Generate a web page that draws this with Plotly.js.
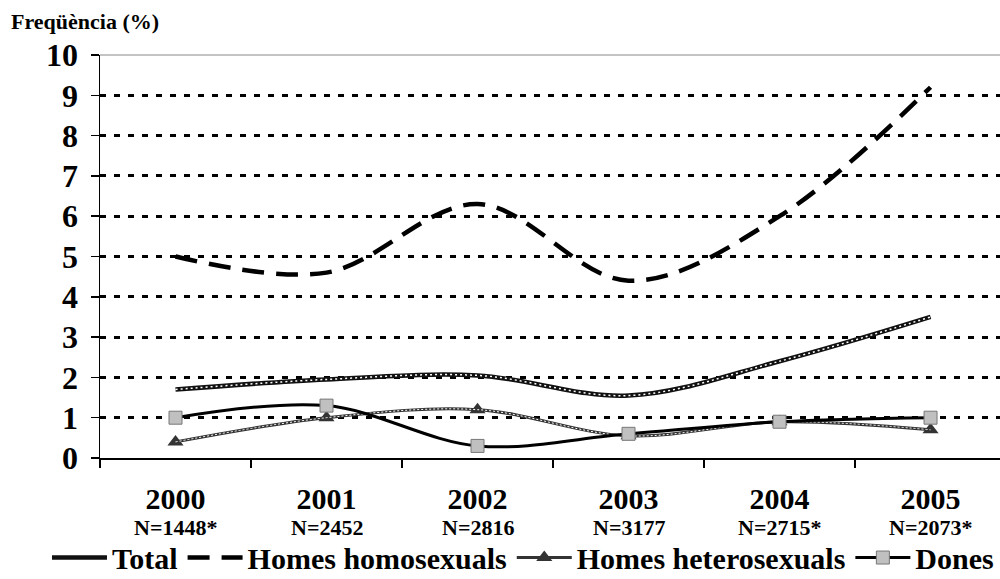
<!DOCTYPE html>
<html>
<head>
<meta charset="utf-8">
<script src="https://cdn.plot.ly/plotly-3.0.1.min.js"></script>
<style>html,body{margin:0;padding:0;background:#fff;}#chart{width:1000px;height:579px;}</style>
</head>
<body>
<div id="chart"></div>
<script>
const years = ['2000', '2001', '2002', '2003', '2004', '2005'];
const nLabels = ['N=1448*', 'N=2452', 'N=2816', 'N=3177', 'N=2715*', 'N=2073*'];
const total = [1.7, 1.95, 2.05, 1.55, 2.4, 3.5];
const homosexuals = [5.0, 4.6, 6.3, 4.4, 6.0, 9.2];
const heterosexuals = [0.4, 1.0, 1.2, 0.55, 0.9, 0.7];
const dones = [1.0, 1.3, 0.3, 0.6, 0.9, 1.0];
const seriesNames = ['Total', 'Homes homosexuals', 'Homes heterosexuals', 'Dones'];

const FONT = 'Liberation Serif';

const traces = [
  {x: years, y: total, name: seriesNames[0], mode: 'lines',
   line: {color: '#111', width: 4.5, shape: 'spline', smoothing: 1}},
  {x: years, y: total, showlegend: false, hoverinfo: 'skip', mode: 'lines',
   line: {color: '#fff', width: 1.5, dash: '2px,3px', shape: 'spline', smoothing: 1}},
  {x: years, y: homosexuals, name: seriesNames[1], mode: 'lines',
   line: {color: '#000', width: 4.5, dash: '22px,12px', shape: 'spline', smoothing: 1}},
  {x: years, y: heterosexuals, name: seriesNames[2], mode: 'lines+markers',
   line: {color: '#333', width: 3, shape: 'spline', smoothing: 1},
   marker: {symbol: 'triangle-up', size: 14, color: '#333'}},
  {x: years, y: heterosexuals, showlegend: false, hoverinfo: 'skip', mode: 'lines',
   line: {color: '#fff', width: 1, dash: '2px,2px', shape: 'spline', smoothing: 1}},
  {x: years, y: dones, name: seriesNames[3], mode: 'lines+markers',
   line: {color: '#000', width: 3, shape: 'spline', smoothing: 1},
   marker: {symbol: 'square', size: 13, color: '#c0c0c0', line: {color: '#777', width: 1}}}
];

const annotations = years.map((yr, i) => ({
  x: i, xref: 'x', y: -0.173, yref: 'paper', text: '<b>' + nLabels[i] + '</b>',
  showarrow: false, xanchor: 'center', yanchor: 'middle',
  font: {family: FONT, size: 22, color: '#000'}
}));

const layout = {
  width: 1000, height: 579,
  margin: {l: 100, r: 0, t: 55, b: 121, autoexpand: false},
  paper_bgcolor: '#fff', plot_bgcolor: '#fff',
  font: {family: FONT, color: '#000'},
  title: {text: '<b>Freqüència (%)</b>', xref: 'container', yref: 'container',
          x: 0.011, xanchor: 'left', y: 0.963, yanchor: 'middle',
          font: {family: FONT, size: 22, color: '#000'}},
  xaxis: {type: 'category', range: [-0.5, 5.46], tickson: 'boundaries',
          ticks: 'outside', ticklen: 8, tickwidth: 1.5, tickcolor: '#000',
          showline: true, linecolor: '#000', linewidth: 1.5, showgrid: false,
          tickfont: {family: FONT, size: 30, color: '#000', weight: 'bold'},
          ticklabelstandoff: 13, fixedrange: true},
  yaxis: {range: [0, 10], dtick: 1, ticks: 'outside', ticklen: 8, tickwidth: 1.5,
          tickcolor: '#000', showline: true, linecolor: '#000', linewidth: 1.5,
          showgrid: true, gridcolor: '#000', gridwidth: 3, griddash: '6px,8px',
          zeroline: false,
          tickfont: {family: FONT, size: 32, color: '#000', weight: 'bold'},
          ticklabelstandoff: 6, fixedrange: true},
  shapes: [{type: 'line', xref: 'paper', yref: 'y domain', x0: 0, x1: 1, y0: 1, y1: 1,
            line: {color: '#888', width: 1}, layer: 'below'}],
  legend: {orientation: 'h', x: -0.0589, xanchor: 'left',
           y: -0.247, yanchor: 'middle',
           font: {family: FONT, size: 30, color: '#000', weight: 'bold'},
           itemwidth: 55, tracegroupgap: 0, bgcolor: 'rgba(0,0,0,0)'},
  annotations: annotations,
  showlegend: true
};

Plotly.newPlot('chart', traces, layout, {displayModeBar: false, staticPlot: true});
</script>
</body>
</html>
